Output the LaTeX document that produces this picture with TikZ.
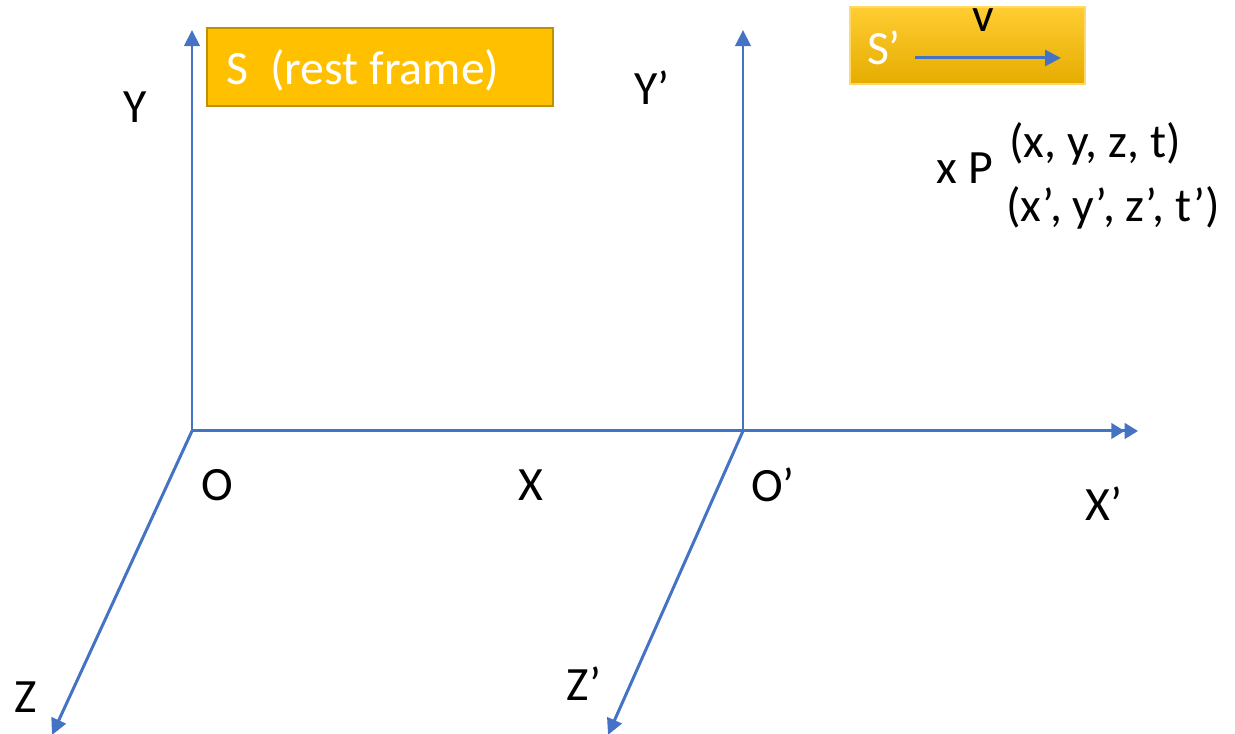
\documentclass[tikz,border=0pt]{standalone}
\usepackage{fontspec}
\setmainfont{Carlito}
\usetikzlibrary{arrows.meta}
\definecolor{axisblue}{HTML}{4472C4}
\definecolor{gold}{HTML}{FFC000}
\definecolor{golddark}{HTML}{BF9000}
\begin{document}
\begin{tikzpicture}[x={(0.01cm,0)},y={(0,-0.01cm)},
  axis/.style={draw=axisblue,line width=0.85pt,-{Triangle[length=4.6pt,width=4.4pt]}},
  daxis/.style={draw=axisblue,line width=0.85pt,-{Triangle[length=3.8pt,width=4.4pt]Triangle[length=3.8pt,width=4.4pt]}},
  lbl/.style={font=\fontsize{13.6pt}{16pt}\selectfont,inner sep=0pt,text=black}]
\useasboundingbox (0,0) rectangle (1235,734);
% origins and tips
\coordinate (O) at (192,431);
\coordinate (Op) at (743,431);
\coordinate (Ytip) at (192,30);
\coordinate (Yptip) at (743,30);
\coordinate (Xtip) at (1138,431);
\coordinate (Ztip) at (52,735);
\coordinate (Zptip) at (608,735);
% axes
\draw[axis] (O) -- (Ytip);
\draw[axis] (Op) -- (Yptip);
\draw[daxis] (O) -- (Xtip);
\draw[axis] (O) -- (Ztip);
\draw[axis] (Op) -- (Zptip);
% S box
\path[draw=golddark,fill=gold,line width=0.8pt] (207,28) rectangle (553,106);
\node[lbl,text=white,anchor=west] (stext) at (226,70) {S\ \ (rest frame)};
% S' box
\path[top color=gold!80!white,bottom color=gold!90!black,draw=gold!60!white,line width=0.4pt]
  (850,7) rectangle (1085,84);
\node[lbl,text=white] (sp) at (884,48) {S’};
\coordinate (vstart) at (915,58);
\coordinate (vend) at (1061,58);
\draw[draw=axisblue,line width=0.85pt,-{Triangle[length=4.5pt,width=4.5pt]}] (vstart) -- (vend);
\node[lbl] (v) at (983,20) {v};
% labels
\node[lbl] (Y) at (135,107) {Y};
\node[lbl] (Yp) at (652,88) {Y’};
\node[lbl] (Olbl) at (217,485) {O};
\node[lbl] (X) at (531,485) {X};
\node[lbl] (Oplbl) at (773,485) {O’};
\node[lbl] (Xp) at (1104,504) {X’};
\node[lbl] (Z) at (26,697) {Z};
\node[lbl] (Zp) at (584,684) {Z’};
\node[lbl] (P) at (965,168) {x P};
\node[lbl] (c1) at (1095,144) {(x, y, z, t)};
\node[lbl] (c2) at (1113,208) {(x’, y’, z’, t’)};
\end{tikzpicture}
\end{document}
